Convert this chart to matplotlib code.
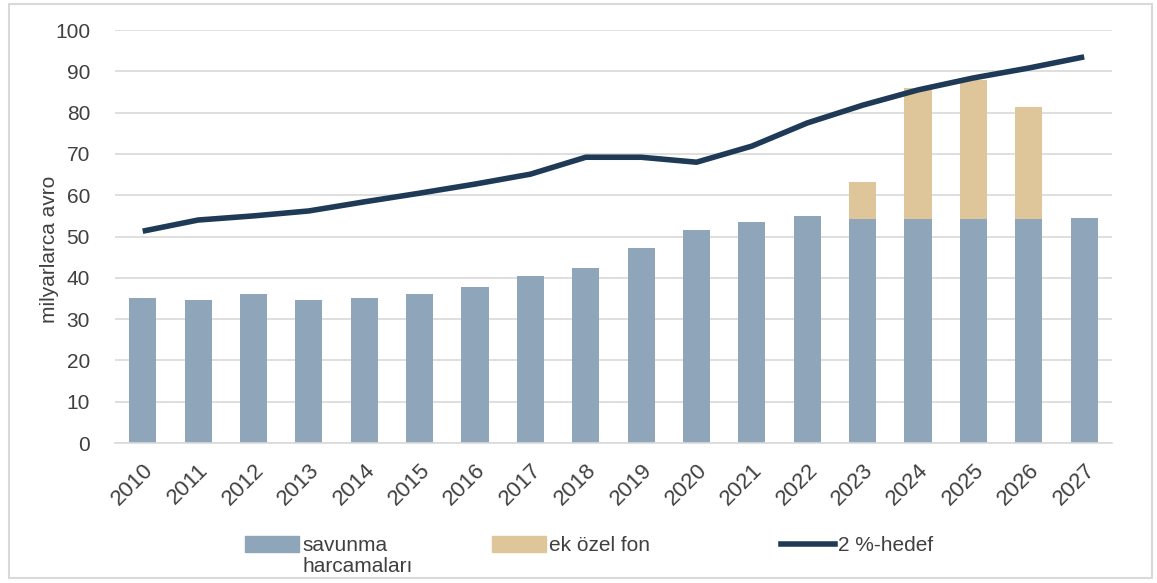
import matplotlib
matplotlib.use("Agg")
import matplotlib.pyplot as plt
from matplotlib.patches import Rectangle
from matplotlib.lines import Line2D
import numpy as np

plt.rcParams['font.family'] = ['Liberation Sans', 'DejaVu Sans']

years = ['2010', '2011', '2012', '2013', '2014', '2015', '2016', '2017', '2018',
         '2019', '2020', '2021', '2022', '2023', '2024', '2025', '2026', '2027']
savunma = [35.1, 34.6, 36.1, 34.6, 35.1, 36.1, 37.8, 40.4, 42.4,
           47.2, 51.6, 53.5, 55.0, 54.2, 54.2, 54.2, 54.2, 54.4]
ozel_fon = [0, 0, 0, 0, 0, 0, 0, 0, 0,
            0, 0, 0, 0, 9.1, 31.7, 33.7, 27.1, 0]
hedef = [51.3, 54.0, 55.0, 56.2, 58.4, 60.5, 62.7, 65.1, 69.2,
         69.2, 68.0, 71.9, 77.5, 81.8, 85.5, 88.4, 90.8, 93.5]

c_bar = '#8fa5b9'
c_fon = '#dfc59a'
c_line = '#1e3a57'
c_text = '#404040'

fig = plt.figure(figsize=(11.57, 5.83), dpi=100)
ax = fig.add_axes([0.0994, 0.240, 0.8616, 0.7085])

x = np.arange(len(years))
ax.bar(x, savunma, width=0.49, color=c_bar, zorder=2)
ax.bar(x, ozel_fon, width=0.49, bottom=savunma, color=c_fon, zorder=2)
ax.plot(x, hedef, color=c_line, lw=4, solid_joinstyle='round',
        solid_capstyle='butt', zorder=3)

ax.set_xlim(-0.5, len(years) - 0.5)
ax.set_ylim(0, 100)
ax.set_yticks(range(0, 101, 10))
ax.yaxis.grid(True, color='#d9d9d9', lw=1.2, zorder=0)
ax.set_axisbelow(True)
for s in ['top', 'right', 'left']:
    ax.spines[s].set_visible(False)
ax.spines['bottom'].set_color('#d9d9d9')
ax.spines['bottom'].set_linewidth(1.2)
ax.tick_params(axis='both', length=0, labelsize=15, labelcolor=c_text)
ax.tick_params(axis='y', pad=18)
ax.set_xticks(x)
ax.set_xticklabels(years, rotation=45, ha='right', rotation_mode='anchor',
                   fontsize=16)
ax.tick_params(axis='x', pad=12)
ax.set_ylabel('milyarlarca avro', fontsize=15, color=c_text)
ax.yaxis.set_label_coords(-0.056, 0.47)

# legend entries placed one by one along the bottom
entries = [
    (Rectangle((0, 0), 1, 1, color=c_bar), 'savunma', 0.212),
    (Rectangle((0, 0), 1, 1, color=c_fon), 'ek özel fon', 0.425),
    (Line2D([], [], color=c_line, lw=4), '2 %-hedef', 0.675),
]
leg_y = 0.08
for handle, label, xpos in entries:
    fig.legend([handle], [label], loc='upper left', bbox_to_anchor=(xpos, leg_y),
               frameon=False, fontsize=15, handlelength=2.6, handleheight=0.75,
               handletextpad=0.15, labelcolor=c_text, borderaxespad=0,
               borderpad=0)
# second line of the first legend label
fig.text(0.2615, leg_y - 0.035, 'harcamaları', fontsize=15, color=c_text,
         ha='left', va='top')

fig.patches.append(Rectangle((0.008, 0.008), 0.988, 0.985, transform=fig.transFigure,
                             fill=False, edgecolor='#d9d9d9', lw=1.5))

fig.savefig('out.png', dpi=100)
